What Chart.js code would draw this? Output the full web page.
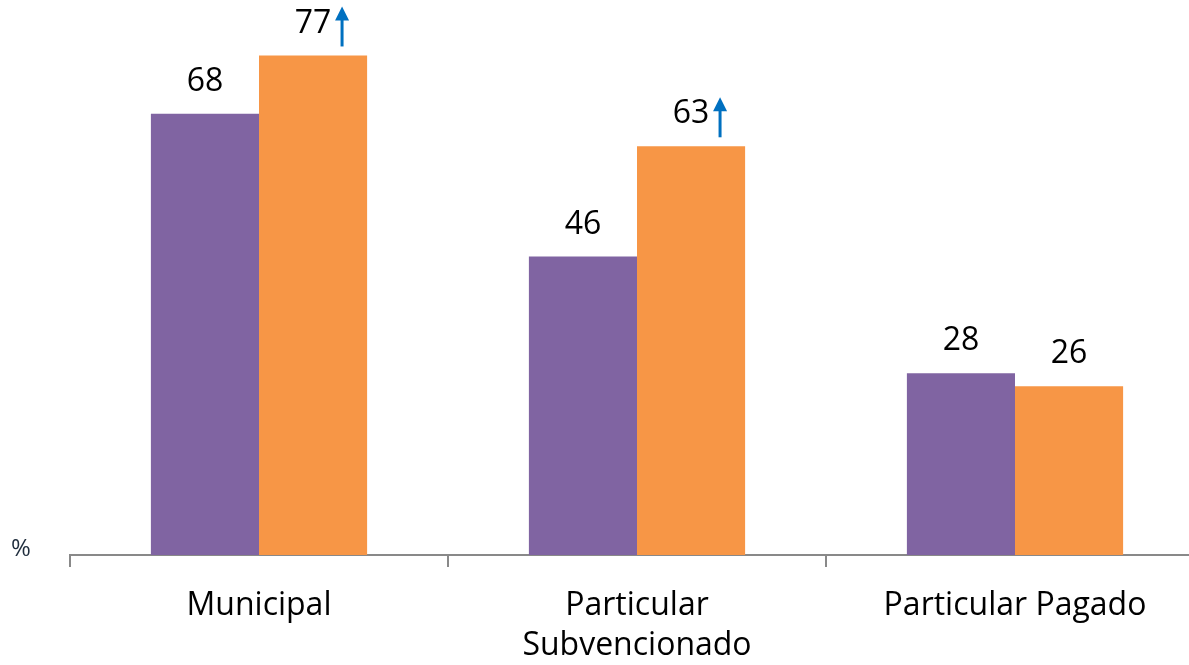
<!DOCTYPE html>
<html>
<head>
<meta charset="utf-8">
<script src="https://cdn.jsdelivr.net/npm/chart.js@4"></script>
<style>
  html, body { margin: 0; padding: 0; background: #fff; overflow: hidden; }
  #wrap { position: relative; width: 1210px; height: 665px; }
  #pct { position: absolute; left: 11px; top: 530px; font: 24px 'Open Sans', sans-serif; color: #1f2d3d; line-height: 34px; }
</style>
</head>
<body>
<div id="wrap">
  <canvas id="chart" width="1210" height="665"></canvas>
  <div id="pct">%</div>
</div>
<script>
// Datos del gráfico
const categories = ['Municipal', ['Particular', 'Subvencionado'], 'Particular Pagado'];
const serieA = [68, 46, 28];
const serieB = [77, 63, 26];
const flechasB = [true, true, false]; // aumento significativo

const FONT = "'Open Sans', sans-serif";

// etiquetas de valor + flechas
const labelsPlugin = {
    id: 'valueLabels',
    afterDatasetsDraw(chart) {
        const ctx = chart.ctx;
        ctx.save();
        ctx.font = '32px ' + FONT;
        ctx.fillStyle = '#000';
        ctx.textAlign = 'center';
        ctx.textBaseline = 'middle';
        chart.data.datasets.forEach((ds, di) => {
            const meta = chart.getDatasetMeta(di);
            meta.data.forEach((bar, i) => {
                const y = bar.y - 32;
                ctx.fillText(ds.data[i], bar.x, y);
                if (di === 1 && flechasB[i]) {
                    const ax = bar.x + 29;
                    ctx.strokeStyle = '#0070C0';
                    ctx.fillStyle = '#0070C0';
                    ctx.lineWidth = 3;
                    ctx.beginPath();
                    ctx.moveTo(ax, y + 23);
                    ctx.lineTo(ax, y - 6);
                    ctx.stroke();
                    ctx.beginPath();
                    ctx.moveTo(ax, y - 17);
                    ctx.lineTo(ax - 7, y - 3);
                    ctx.lineTo(ax + 7, y - 3);
                    ctx.closePath();
                    ctx.fill();
                    ctx.fillStyle = '#000';
                }
            });
        });
        ctx.restore();
    }
};

new Chart(document.getElementById('chart'), {
    type: 'bar',
    data: {
        labels: categories,
        datasets: [
            { data: serieA, backgroundColor: '#8064A2' },
            { data: serieB, backgroundColor: '#F79646' }
        ]
    },
    options: {
        responsive: false,
        animation: false,
        layout: { padding: { left: 70, right: 6, top: 36, bottom: 0 } },
        datasets: {
            bar: { categoryPercentage: 0.572, barPercentage: 1.0 }
        },
        plugins: {
            legend: { display: false },
            tooltip: { enabled: false }
        },
        scales: {
            y: { display: false, min: 0, max: 80 },
            x: {
                afterFit(scale) { scale.height = 110; },
                border: { color: '#898989', width: 2 },
                grid: { drawOnChartArea: false, drawTicks: true, tickLength: 12, color: '#898989', lineWidth: 2 },
                ticks: {
                    color: '#000',
                    padding: 19,
                    maxRotation: 0,
                    font: { family: FONT, size: 32, lineHeight: 1.25 }
                }
            }
        }
    },
    plugins: [labelsPlugin]
});
</script>
</body>
</html>
